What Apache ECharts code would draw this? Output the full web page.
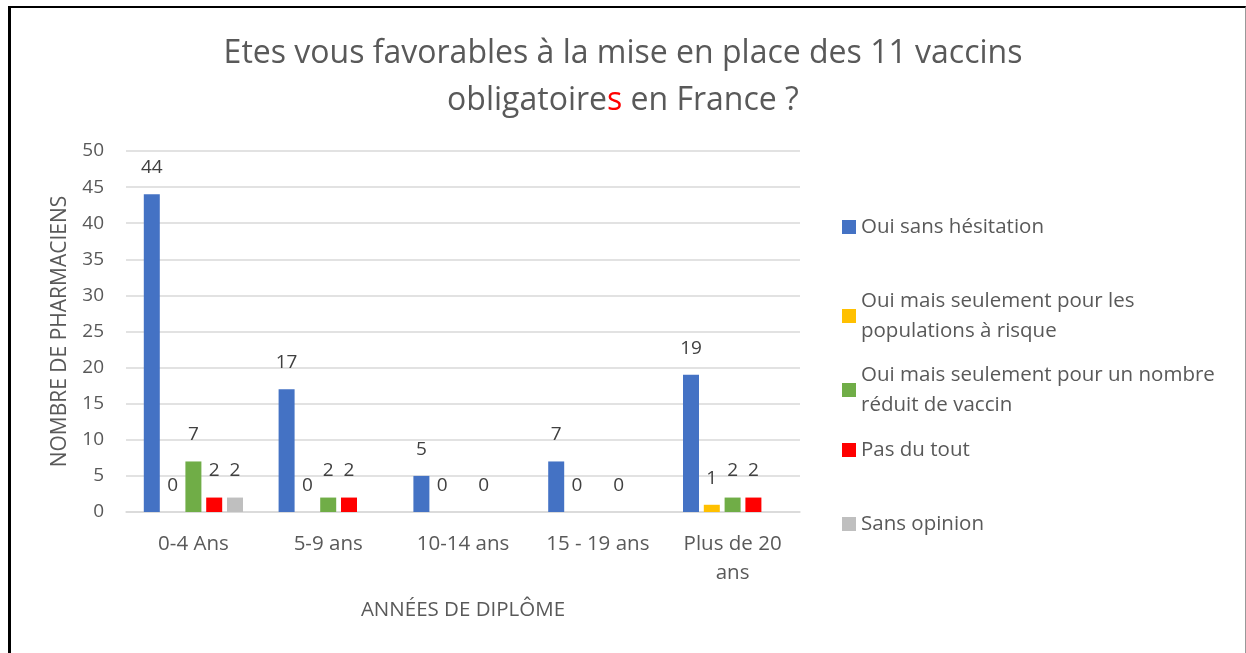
<html>
<head>
    <meta charset="utf-8">
    <title>Vaccins obligatoires</title>
    <script src="https://cdn.jsdelivr.net/npm/echarts@6/dist/echarts.min.js"></script>
    <style>
        body { margin: 0; background: #fff; }
        #frame { position: absolute; left: 8px; top: 6px; width: 1234px; height: 700px;
                 border-left: 3px solid #000; border-top: 2px solid #000; border-right: 1px solid #999; }
        #main { position: absolute; left: 0; top: 0; width: 1246px; height: 653px; }
    </style>
</head>
<body>
    <div id="frame"></div>
    <div id="main"></div>
    <script>
        var categories = ['0-4 Ans', '5-9 ans', '10-14 ans', '15 - 19 ans', 'Plus de 20 ans'];
        var ouiSans = [44, 17, 5, 7, 19];
        var ouiRisque = [0, 0, 0, 0, 1];
        var ouiReduit = [7, 2, null, null, 2];
        var pasDuTout = [2, 2, 0, 0, 2];
        var sansOpinion = [2, null, null, null, null];
        var seriesNames = [
            'Oui sans hésitation',
            'Oui mais seulement pour les populations à risque',
            'Oui mais seulement pour un nombre réduit de vaccin',
            'Pas du tout',
            'Sans opinion'
        ];
        var seriesColors = ['#4472C4', '#FFC000', '#70AD47', '#FF0000', '#BFBFBF'];
        var seriesData = [ouiSans, ouiRisque, ouiReduit, pasDuTout, sansOpinion];

        var legendLabels = {
            'Oui mais seulement pour les populations à risque': 'Oui mais seulement pour les\npopulations à risque',
            'Oui mais seulement pour un nombre réduit de vaccin': 'Oui mais seulement pour un nombre\nréduit de vaccin'
        };
        var legendTops = [207, 281, 355, 430, 504];

        var font = 'Open Sans';
        var grey = '#595959';

        var myChart = echarts.init(document.getElementById('main'));

        var legends = [];
        var series = [];
        for (var i = 0; i < seriesNames.length; i++) {
            legends.push({
                left: 837,
                top: legendTops[i],
                orient: 'vertical',
                data: [seriesNames[i]],
                icon: 'rect',
                itemWidth: 14,
                itemHeight: 14,
                selectedMode: false,
                formatter: function (name) {
                    return legendLabels[name] || name;
                },
                textStyle: { fontFamily: font, fontSize: 20.5, color: grey, lineHeight: 30 }
            });
            series.push({
                name: seriesNames[i],
                type: 'bar',
                data: seriesData[i],
                barWidth: 16,
                barGap: '30%',
                itemStyle: { color: seriesColors[i] },
                label: {
                    show: true,
                    position: 'top',
                    distance: 17,
                    fontFamily: font,
                    fontSize: 19,
                    color: '#404040'
                }
            });
        }

        var option = {
            animation: false,
            title: {
                left: 'center',
                top: 25,
                text: '{a|Etes vous favorables à la mise en place des 11 vaccins}\n{a|obligatoire}{r|s}{a| en France ?}',
                textStyle: {
                    rich: {
                        a: { fontFamily: font, fontSize: 32, fontWeight: 'normal', color: grey, lineHeight: 47 },
                        r: { fontFamily: font, fontSize: 32, fontWeight: 'normal', color: '#FF0000', lineHeight: 47 }
                    }
                }
            },
            legend: legends,
            grid: { left: 126, right: 446, top: 151, bottom: 141 },
            xAxis: {
                type: 'category',
                data: categories,
                name: 'ANNÉES DE DIPLÔME',
                nameLocation: 'middle',
                nameGap: 88,
                nameTextStyle: { fontFamily: font, fontSize: 20.5, color: grey },
                axisLine: { lineStyle: { color: '#D9D9D9', width: 1.5 } },
                axisTick: { show: false },
                axisLabel: {
                    interval: 0,
                    fontFamily: font,
                    fontSize: 20.5,
                    color: grey,
                    margin: 18,
                    lineHeight: 29,
                    formatter: function (v) {
                        return v === 'Plus de 20 ans' ? 'Plus de 20\nans' : v;
                    }
                }
            },
            yAxis: {
                type: 'value',
                min: 0,
                max: 50,
                interval: 5,
                name: 'NOMBRE DE PHARMACIENS',
                nameLocation: 'middle',
                nameGap: 55,
                nameTextStyle: { fontFamily: font, fontSize: 21, color: grey },
                axisLabel: { fontFamily: font, fontSize: 19, color: grey, margin: 22 },
                splitLine: { lineStyle: { color: '#D9D9D9', width: 1.5 } }
            },
            series: series
        };
        myChart.setOption(option);
    </script>
</body>
</html>
